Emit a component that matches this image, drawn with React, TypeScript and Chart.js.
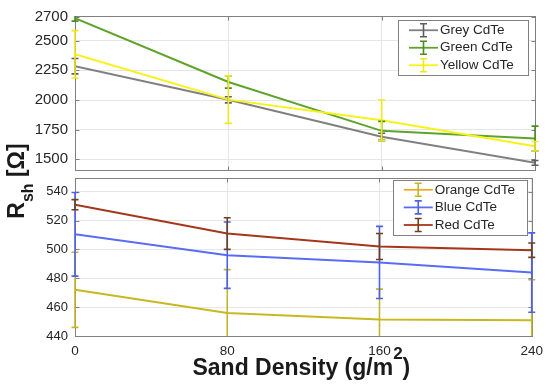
import React, { useEffect, useRef } from "react";
import { Chart, registerables } from "chart.js";
Chart.register(...registerables);

// ---------- data ----------
const xValues = [0, 80, 160, 240];
const topTicks = [1500, 1750, 2000, 2250, 2500, 2700];
const bottomTicks = [440, 460, 480, 500, 520, 540];

const greyValues = [2285, 2002, 1690, 1470];
const greyErr = [65, 26, 30, 20];
const greenValues = [2690, 2152, 1740, 1675];
const greenErr = [25, 52, 80, 105];
const yellowValues = [2385, 2003, 1830, 1610];
const yellowErr = [200, 200, 170, 40];

const orangeValues = [472, 456, 451.5, 451];
const orangeErr = [26, 30, 21, 28];
const blueValues = [510.5, 496, 491, 484];
const blueErr = [29, 23, 25, 27.5];
const redValues = [531, 511, 502, 499.5];
const redErr = [3.5, 11, 9, 5];

const topLabels = ["Grey CdTe", "Green CdTe", "Yellow CdTe"];
const bottomLabels = ["Orange CdTe", "Blue CdTe", "Red CdTe"];

const xTitle = "Sand Density (g/m";
const xTitleSup = "2";
const xTitleEnd = ")";
const yTitleMain = "R";
const yTitleSub = "sh";
const yTitleEnd = " [Ω]";

// ---------- styles ----------
const FONT = '"Liberation Sans", Arial, Helvetica, sans-serif';
const TEXT = "#262626";
const AXIS = "#808080";
const GRID = "#e6e6e6";

type Series = {
  label: string;
  values: number[];
  err: number[];
  line: string;
  bar: string;
  legendLine: string;
};

const topSeries: Series[] = [
  { label: topLabels[0], values: greyValues, err: greyErr, line: "#808080", bar: "#5e5e5e", legendLine: "#808080" },
  { label: topLabels[1], values: greenValues, err: greenErr, line: "#5ea42b", bar: "#4b8c22", legendLine: "#5ea42b" },
  { label: topLabels[2], values: yellowValues, err: yellowErr, line: "#f8f21a", bar: "#f0e81c", legendLine: "#f8f21a" },
];
const bottomSeries: Series[] = [
  { label: bottomLabels[0], values: orangeValues, err: orangeErr, line: "#c8b820", bar: "#c2b62a", legendLine: "#f0a828" },
  { label: bottomLabels[1], values: blueValues, err: blueErr, line: "#5a6cf2", bar: "#4e60ea", legendLine: "#5a6cf2" },
  { label: bottomLabels[2], values: redValues, err: redErr, line: "#a5361a", bar: "#70401e", legendLine: "#a5361a" },
];

function makePlugin(series: Series[], legendOpts: { rightGap: number; topGap: number; width: number; rowH: number }, titles: boolean) {
  return {
    id: "custom",
    beforeDatasetsDraw(chart: any) {
      const ctx = chart.ctx as CanvasRenderingContext2D;
      const ca = chart.chartArea;
      const ys = chart.scales.y;
      const xs = chart.scales.x;
      // box and inward ticks
      ctx.save();
      ctx.strokeStyle = AXIS;
      ctx.lineWidth = 1;
      const L = Math.round(ca.left) + 0.5;
      const R = Math.round(ca.right) + 0.5;
      const T = Math.round(ca.top) + 0.5;
      const B = Math.round(ca.bottom) + 0.5;
      ctx.strokeRect(L, T, R - L, B - T);
      ctx.beginPath();
      ys.ticks.forEach((t: any) => {
        const y = Math.round(ys.getPixelForValue(t.value)) + 0.5;
        ctx.moveTo(L, y);
        ctx.lineTo(L + 4, y);
        ctx.moveTo(R, y);
        ctx.lineTo(R - 4, y);
      });
      xs.ticks.forEach((t: any) => {
        const x = Math.round(xs.getPixelForValue(t.value)) + 0.5;
        ctx.moveTo(x, B);
        ctx.lineTo(x, B - 4);
        ctx.moveTo(x, T);
        ctx.lineTo(x, T + 4);
      });
      ctx.stroke();
      ctx.restore();
    },
    afterDatasetsDraw(chart: any) {
      const ctx = chart.ctx as CanvasRenderingContext2D;
      const ca = chart.chartArea;
      const ys = chart.scales.y;
      // error bars (clipped vertically to the axes)
      ctx.save();
      ctx.beginPath();
      ctx.rect(ca.left - 8, ca.top, ca.right - ca.left + 16, ca.bottom - ca.top);
      ctx.clip();
      series.forEach((s, i) => {
        const meta = chart.getDatasetMeta(i);
        ctx.strokeStyle = s.bar;
        ctx.lineWidth = 1.6;
        meta.data.forEach((pt: any, j: number) => {
          const x = pt.x;
          const y1 = ys.getPixelForValue(s.values[j] + s.err[j]);
          const y2 = ys.getPixelForValue(s.values[j] - s.err[j]);
          ctx.beginPath();
          ctx.moveTo(x, y1);
          ctx.lineTo(x, y2);
          ctx.moveTo(x - 3.5, y1);
          ctx.lineTo(x + 3.5, y1);
          ctx.moveTo(x - 3.5, y2);
          ctx.lineTo(x + 3.5, y2);
          ctx.stroke();
        });
      });
      ctx.restore();

      // legend
      ctx.save();
      const boxR = ca.right - legendOpts.rightGap;
      const boxL = boxR - legendOpts.width;
      const boxT = ca.top + legendOpts.topGap;
      const boxH = legendOpts.rowH * series.length + 2;
      ctx.fillStyle = "#ffffff";
      ctx.fillRect(boxL, boxT, boxR - boxL, boxH);
      ctx.strokeStyle = AXIS;
      ctx.lineWidth = 1;
      ctx.strokeRect(Math.round(boxL) + 0.5, Math.round(boxT) + 0.5, Math.round(boxR - boxL), Math.round(boxH));
      ctx.font = `13.5px ${FONT}`;
      ctx.textBaseline = "middle";
      ctx.textAlign = "left";
      series.forEach((s, i) => {
        const cy = boxT + 1 + legendOpts.rowH * (i + 0.5) + 0.5;
        const gx0 = boxL + 11;
        const gx1 = gx0 + 29;
        const gc = (gx0 + gx1) / 2;
        ctx.strokeStyle = s.legendLine;
        ctx.lineWidth = 1.8;
        ctx.beginPath();
        ctx.moveTo(gx0, cy);
        ctx.lineTo(gx1, cy);
        ctx.stroke();
        ctx.strokeStyle = s.bar;
        ctx.lineWidth = 1.6;
        ctx.beginPath();
        ctx.moveTo(gc, cy - 6.5);
        ctx.lineTo(gc, cy + 6.5);
        ctx.moveTo(gc - 3.5, cy - 6.5);
        ctx.lineTo(gc + 3.5, cy - 6.5);
        ctx.moveTo(gc - 3.5, cy + 6.5);
        ctx.lineTo(gc + 3.5, cy + 6.5);
        ctx.stroke();
        ctx.fillStyle = TEXT;
        ctx.fillText(s.label, gx1 + 2, cy);
      });
      ctx.restore();

      if (titles) {
        ctx.save();
        ctx.fillStyle = "#1a1a1a";
        ctx.textBaseline = "alphabetic";
        ctx.textAlign = "left";
        const big = `bold 23px ${FONT}`;
        const sup = `bold 17px ${FONT}`;
        const sub = `bold 16px ${FONT}`;
        // x title
        ctx.font = big;
        const w1 = ctx.measureText(xTitle).width;
        const w3 = ctx.measureText(xTitleEnd).width;
        ctx.font = sup;
        const w2 = ctx.measureText(xTitleSup).width;
        let x = (ca.left + ca.right) / 2 - 2 - (w1 + w2 + w3) / 2;
        const base = 375;
        ctx.font = big;
        ctx.fillText(xTitle, x, base);
        x += w1;
        ctx.font = sup;
        ctx.fillText(xTitleSup, x, base - 16);
        x += w2;
        ctx.font = big;
        ctx.fillText(xTitleEnd, x, base);
        // y title
        ctx.font = big;
        const a = ctx.measureText(yTitleMain).width;
        const c = ctx.measureText(yTitleEnd).width;
        ctx.font = sub;
        const b = ctx.measureText(yTitleSub).width;
        const total = a + b + c;
        ctx.translate(23.5, 181);
        ctx.rotate(-Math.PI / 2);
        let tx = -total / 2;
        ctx.font = big;
        ctx.fillText(yTitleMain, tx, 0);
        tx += a;
        ctx.font = sub;
        ctx.fillText(yTitleSub, tx, 9.5);
        tx += b;
        ctx.font = big;
        ctx.fillText(yTitleEnd, tx, 0);
        ctx.restore();
      }
    },
  };
}

function makeConfig(
  series: Series[],
  yMin: number,
  yMax: number,
  yTicks: number[],
  yFont: number,
  padding: any,
  xHeight: number,
  showX: boolean,
  plugin: any
): any {
  return {
    type: "line",
    data: {
      datasets: series.map((s, i) => ({
        label: s.label,
        data: xValues.map((x, j) => ({ x, y: s.values[j] })),
        borderColor: s.line,
        backgroundColor: s.line,
        borderWidth: 2,
        pointRadius: 0,
        tension: 0,
        fill: false,
        order: series.length - i,
      })),
    },
    options: {
      responsive: false,
      animation: false,
      devicePixelRatio: 1,
      layout: { padding },
      plugins: { legend: { display: false }, tooltip: { enabled: false }, title: { display: false } },
      events: [],
      scales: {
        x: {
          type: "linear",
          min: 0,
          max: 240,
          afterBuildTicks: (scale: any) => {
            scale.ticks = xValues.map((v) => ({ value: v }));
          },
          afterFit: (scale: any) => {
            scale.height = xHeight;
          },
          grid: { color: GRID, drawTicks: false, lineWidth: 1 },
          border: { display: false },
          ticks: {
            display: showX,
            padding: 7,
            color: TEXT,
            font: { family: FONT, size: 13.5 },
            maxRotation: 0,
            callback: (v: any) => String(v),
          },
        },
        y: {
          type: "linear",
          min: yMin,
          max: yMax,
          afterBuildTicks: (scale: any) => {
            scale.ticks = yTicks.map((v) => ({ value: v }));
          },
          afterFit: (scale: any) => {
            scale.width = 75;
          },
          grid: { color: GRID, drawTicks: false, lineWidth: 1 },
          border: { display: false },
          ticks: {
            padding: 7,
            color: TEXT,
            font: { family: FONT, size: yFont },
            callback: (v: any) => String(v),
          },
        },
      },
    },
    plugins: [plugin],
  };
}

export default function App() {
  const topRef = useRef<HTMLCanvasElement | null>(null);
  const botRef = useRef<HTMLCanvasElement | null>(null);

  useEffect(() => {
    const topPlugin = makePlugin(topSeries, { rightGap: 7, topGap: 4, width: 130, rowH: 17.5 }, false);
    const botPlugin = makePlugin(bottomSeries, { rightGap: 5, topGap: 1.5, width: 134, rowH: 17.6 }, true);
    const top = new Chart(
      topRef.current as HTMLCanvasElement,
      makeConfig(topSeries, 1410, 2708, topTicks, 15, { top: 13, right: 15, bottom: 214, left: 0 }, 0, false, topPlugin)
    );
    const bot = new Chart(
      botRef.current as HTMLCanvasElement,
      makeConfig(bottomSeries, 440, 549.5, bottomTicks, 13, { top: 178, right: 15, bottom: 0, left: 0 }, 48, true, botPlugin)
    );
    return () => {
      top.destroy();
      bot.destroy();
    };
  }, []);

  const cs: React.CSSProperties = { position: "absolute", left: 0, top: 0, width: 550, height: 384 };
  return (
    <div style={{ position: "absolute", left: 0, top: 0, width: 550, height: 384, background: "#ffffff" }}>
      <canvas ref={topRef} width={550} height={384} style={cs} />
      <canvas ref={botRef} width={550} height={384} style={cs} />
    </div>
  );
}
